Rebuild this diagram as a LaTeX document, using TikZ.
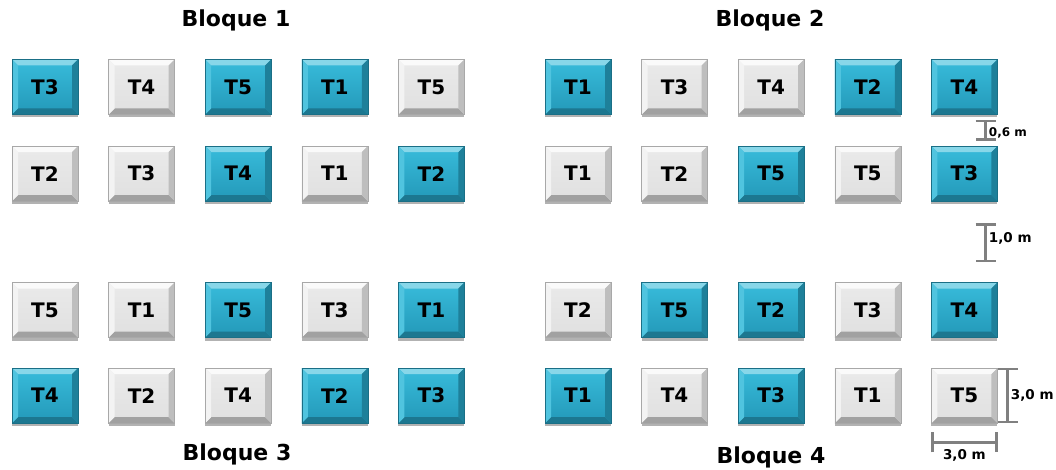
\documentclass[tikz,border=0pt]{standalone}
\usepackage{fontspec}
\setmainfont{DejaVu Sans}
\usepackage{tikz}
\usetikzlibrary{arrows.meta,positioning,shadows}
\definecolor{bluefacetop}{HTML}{38BCDB}
\definecolor{bluefacebot}{HTML}{2398B8}
\definecolor{blueedge}{HTML}{1A6F86}
\definecolor{greyfacetop}{HTML}{EAEAEA}
\definecolor{greyfacebot}{HTML}{E0E0E0}
\definecolor{greyedge}{HTML}{A8A8A8}
\definecolor{dimgrey}{HTML}{808080}
\newcommand{\pbb}{path picture bounding box}

% bevelled plot: top, bottom, left, right facet colours
\tikzset{
  bevel/.style n args={4}{path picture={
    \fill[#1] (\pbb.north west) -- (\pbb.north east)
      -- ([shift={(-6pt,-6pt)}]\pbb.north east) -- ([shift={(6pt,-6pt)}]\pbb.north west) -- cycle;
    \fill[#2] (\pbb.south west) -- (\pbb.south east)
      -- ([shift={(-6pt,6pt)}]\pbb.south east) -- ([shift={(6pt,6pt)}]\pbb.south west) -- cycle;
    \fill[#3] (\pbb.north west) -- (\pbb.south west)
      -- ([shift={(6pt,6pt)}]\pbb.south west) -- ([shift={(6pt,-6pt)}]\pbb.north west) -- cycle;
    \fill[#4] (\pbb.north east) -- (\pbb.south east)
      -- ([shift={(-6pt,6pt)}]\pbb.south east) -- ([shift={(-6pt,-6pt)}]\pbb.north east) -- cycle;
  }}
}

\begin{document}
\begin{tikzpicture}[
  x=1pt,y=-1pt,
  node distance=31pt and 30pt,
  plot/.style={minimum width=66pt,minimum height=55pt,inner sep=0pt,
               font=\fontsize{20}{22}\selectfont\bfseries,line width=0.6pt,
               drop shadow={shadow xshift=0pt,shadow yshift=-3pt,opacity=0.3,fill=black}},
  blueplot/.style={plot,draw=blueedge,top color=bluefacetop,bottom color=bluefacebot,
               bevel={white!40!bluefacetop}{blueedge!80!bluefacebot}{white!12!bluefacetop}{blueedge!60!bluefacebot}},
  greyplot/.style={plot,draw=greyedge,top color=greyfacetop,bottom color=greyfacebot,
               bevel={white!75!greyfacetop}{black!28!greyfacebot}{white!40!greyfacetop}{black!15!greyfacebot}},
  title/.style={font=\fontsize{22}{26}\selectfont\bfseries},
  dimline/.style={draw=dimgrey,line width=2.5pt,{Bar[width=20pt]}-{Bar[width=20pt]}},
  dimlabel/.style={font=\fontsize{13.5}{15}\selectfont\bfseries,inner sep=2pt}
]
\useasboundingbox (0,0) rectangle (1056,470);

\node[title] (t1) at (236,20) {Bloque 1};
\node[title] (t2) at (770,20) {Bloque 2};
\node[title] (t3) at (237,454) {Bloque 3};
\node[title] (t4) at (771,457) {Bloque 4};

% Bloque 1
\node[blueplot] (b1-11) at (45,87) {T3};
\node[greyplot,right=of b1-11] (b1-12) {T4};
\node[blueplot,right=of b1-12] (b1-13) {T5};
\node[blueplot,right=of b1-13] (b1-14) {T1};
\node[greyplot,right=of b1-14] (b1-15) {T5};
\node[greyplot,below=of b1-11] (b1-21) {T2};
\node[greyplot,right=of b1-21] (b1-22) {T3};
\node[blueplot,right=of b1-22] (b1-23) {T4};
\node[greyplot,right=of b1-23] (b1-24) {T1};
\node[blueplot,right=of b1-24] (b1-25) {T2};

% Bloque 2
\node[blueplot] (b2-11) at (578,87) {T1};
\node[greyplot,right=of b2-11] (b2-12) {T3};
\node[greyplot,right=of b2-12] (b2-13) {T4};
\node[blueplot,right=of b2-13] (b2-14) {T2};
\node[blueplot,right=of b2-14] (b2-15) {T4};
\node[greyplot,below=of b2-11] (b2-21) {T1};
\node[greyplot,right=of b2-21] (b2-22) {T2};
\node[blueplot,right=of b2-22] (b2-23) {T5};
\node[greyplot,right=of b2-23] (b2-24) {T5};
\node[blueplot,right=of b2-24] (b2-25) {T3};

% Bloque 3
\node[greyplot] (b3-31) at (45,310) {T5};
\node[greyplot,right=of b3-31] (b3-32) {T1};
\node[blueplot,right=of b3-32] (b3-33) {T5};
\node[greyplot,right=of b3-33] (b3-34) {T3};
\node[blueplot,right=of b3-34] (b3-35) {T1};
\node[blueplot,below=30pt of b3-31] (b3-41) {T4};
\node[greyplot,right=of b3-41] (b3-42) {T2};
\node[greyplot,right=of b3-42] (b3-43) {T4};
\node[blueplot,right=of b3-43] (b3-44) {T2};
\node[blueplot,right=of b3-44] (b3-45) {T3};

% Bloque 4
\node[greyplot] (b4-31) at (578,310) {T2};
\node[blueplot,right=of b4-31] (b4-32) {T5};
\node[blueplot,right=of b4-32] (b4-33) {T2};
\node[greyplot,right=of b4-33] (b4-34) {T3};
\node[blueplot,right=of b4-34] (b4-35) {T4};
\node[blueplot,below=30pt of b4-31] (b4-41) {T1};
\node[greyplot,right=of b4-41] (b4-42) {T4};
\node[blueplot,right=of b4-42] (b4-43) {T3};
\node[greyplot,right=of b4-43] (b4-44) {T1};
\node[greyplot,right=of b4-44] (b4-45) {T5};

% dimensions
\draw[dimline] ([shift={(-12pt,-5pt)}]b2-15.south east) -- ([shift={(-12pt,5pt)}]b2-25.north east)
  node[dimlabel,midway,right,yshift=-3pt,font=\fontsize{12}{13}\selectfont\bfseries] (d1) {0,6 m};
\draw[dimline] ([shift={(-12pt,-22pt)}]b2-25.south east) -- ([shift={(-12pt,20pt)}]b4-35.north east)
  node[dimlabel,midway,right,yshift=4pt] (d2) {1,0 m};
\draw[dimline] ([xshift=10pt]b4-45.north east) -- ([xshift=10pt]b4-45.south east)
  node[dimlabel,midway,right] (d3) {3,0 m};
\draw[dimline] ([yshift=-19pt]b4-45.south west) -- ([yshift=-19pt]b4-45.south east)
  node[dimlabel,midway,below,yshift=-4pt] (d4) {3,0 m};
\end{tikzpicture}
\end{document}
